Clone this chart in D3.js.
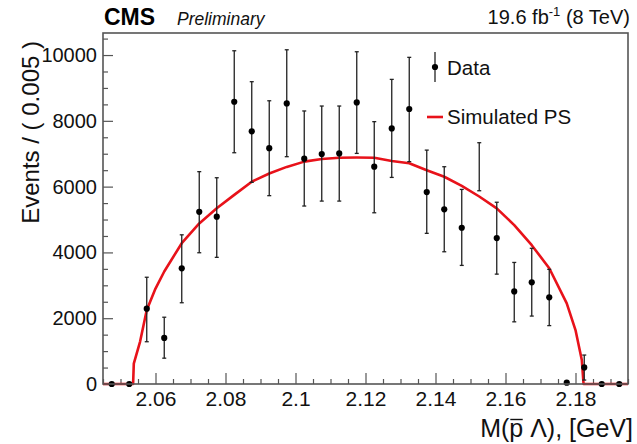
<!DOCTYPE html>
<html>
<head>
<meta charset="utf-8">
<script src="https://cdn.jsdelivr.net/npm/d3@7"></script>
<style>
  html, body { margin: 0; padding: 0; background: #fff; }
  svg { display: block; font-family: "Liberation Sans", Arial, Helvetica, sans-serif; }
</style>
</head>
<body>
<svg id="chart" width="637" height="444"></svg>
<script>
// ---- data ----
const binCenters = [2.0475, 2.0525, 2.0575, 2.0625, 2.0675, 2.0725, 2.0775, 2.0825, 2.0875, 2.0925,
                    2.0975, 2.1025, 2.1075, 2.1125, 2.1175, 2.1225, 2.1275, 2.1325, 2.1375, 2.1425,
                    2.1475, 2.1525, 2.1575, 2.1625, 2.1675, 2.1725, 2.1775, 2.1825, 2.1875, 2.1925];
const dataValues = [0, 0, 2290, 1400, 3515, 5235, 5085, 8580, 7680, 7170,
                    8530, 6850, 6990, 7010, 8560, 6605, 7770, 8360, 5835, 5310,
                    4750, 6605, 4435, 2815, 3090, 2635, 40, 505, 0, 0];
const errUp   = [0, 0, 955, 630, 1020, 1220, 1185, 1550, 1510, 1440,
                 1630, 1450, 1460, 1440, 1540, 1370, 1490, 1570, 1275, 1295,
                 1165, 730, 1090, 880, 1035, 850, 0, 375, 0, 0];
const errDown = [0, 0, 1005, 615, 1045, 1245, 1235, 1550, 1550, 1445,
                 1620, 1440, 1430, 1450, 1550, 1400, 1490, 1600, 1255, 1290,
                 1145, 730, 1095, 925, 1025, 860, 0, 385, 0, 0];
const hiddenMarkers = [2.1525];

const psX = [2.045, 2.0536, 2.0538, 2.0556, 2.0575, 2.0600, 2.0625, 2.0675, 2.0725, 2.0775,
             2.0825, 2.0875, 2.0925, 2.0975, 2.1025, 2.1075, 2.1125, 2.1175, 2.1225, 2.1275,
             2.1325, 2.1375, 2.1425, 2.1475, 2.1525, 2.1575, 2.1625, 2.1675, 2.1725, 2.1775,
             2.1800, 2.1818, 2.1823, 2.195];
const psY = [0, 0, 620, 1290, 2250, 2900, 3420, 4280, 4880, 5340,
             5750, 6150, 6400, 6600, 6760, 6840, 6880, 6885, 6880, 6780,
             6710, 6500, 6300, 6020, 5700, 5340, 4830, 4220, 3520, 2450,
             1640, 730, 0, 0];

const xTicks = [2.06, 2.08, 2.10, 2.12, 2.14, 2.16, 2.18];
const xTickLabels = ["2.06", "2.08", "2.1", "2.12", "2.14", "2.16", "2.18"];
const yTicks = [0, 2000, 4000, 6000, 8000, 10000];
const yTickLabels = ["0", "2000", "4000", "6000", "8000", "10000"];

// ---- layout ----
const L = 103, R = 628, T = 33, B = 384;
const svg = d3.select("#chart");
const x = d3.scaleLinear().domain([2.045, 2.195]).range([L, R]);
const y = d3.scaleLinear().domain([0, 10670]).range([B, T]);
const frameColor = "#555";

// minor ticks
const xMinor = d3.range(2.045, 2.1951, 0.005).filter(v => !xTicks.some(t => Math.abs(t - v) < 1e-6));
const yMinor = d3.range(0, 10600, 500).filter(v => v % 2000 !== 0);

const gx = svg.append("g").attr("transform", `translate(0,${B})`);
gx.call(d3.axisBottom(x).tickValues(xMinor).tickSize(-5).tickFormat(""));
gx.select(".domain").remove();
const gx2 = svg.append("g").attr("transform", `translate(0,${B})`);
gx2.call(d3.axisBottom(x).tickValues(xTicks).tickSize(-11).tickPadding(7)
          .tickFormat((d, i) => xTickLabels[i]));
gx2.select(".domain").remove();
gx2.selectAll("text").attr("font-size", 21).attr("fill", "#111")
   .attr("font-family", "Liberation Sans, Arial, sans-serif");

const gy = svg.append("g").attr("transform", `translate(${L},0)`);
gy.call(d3.axisLeft(y).tickValues(yMinor).tickSize(-5).tickFormat(""));
gy.select(".domain").remove();
const gy2 = svg.append("g").attr("transform", `translate(${L},0)`);
gy2.call(d3.axisLeft(y).tickValues(yTicks).tickSize(-10).tickPadding(6)
          .tickFormat((d, i) => yTickLabels[i]));
gy2.select(".domain").remove();
gy2.selectAll("text").attr("font-size", 20).attr("fill", "#111")
   .attr("font-family", "Liberation Sans, Arial, sans-serif");
svg.selectAll("g.tick line").attr("stroke", frameColor).attr("stroke-width", 1.2);

// PS curve
const line = d3.line().x(d => x(d[0])).y(d => y(d[1]));
svg.append("path")
  .datum(psX.map((v, i) => [v, psY[i]]))
  .attr("d", line)
  .attr("fill", "none")
  .attr("stroke", "#e8121a")
  .attr("stroke-width", 2.6)
  .attr("stroke-linejoin", "round");

// data error bars
const pts = binCenters.map((c, i) => ({c, v: dataValues[i], up: errUp[i], dn: errDown[i]}));
const eb = svg.append("g").attr("stroke", "#222").attr("stroke-width", 1.3);
pts.filter(p => p.up > 0 || p.dn > 0).forEach(p => {
  eb.append("line").attr("x1", x(p.c)).attr("x2", x(p.c)).attr("y1", y(p.v + p.up)).attr("y2", y(p.v - p.dn));
  eb.append("line").attr("x1", x(p.c) - 2).attr("x2", x(p.c) + 2).attr("y1", y(p.v + p.up)).attr("y2", y(p.v + p.up));
  eb.append("line").attr("x1", x(p.c) - 2).attr("x2", x(p.c) + 2).attr("y1", y(p.v - p.dn)).attr("y2", y(p.v - p.dn));
});
svg.append("g").selectAll("circle")
  .data(pts.filter(p => !hiddenMarkers.includes(p.c)))
  .join("circle")
  .attr("cx", p => x(p.c)).attr("cy", p => y(p.v)).attr("r", 3.1).attr("fill", "#000");

// frame
svg.append("rect").attr("x", L).attr("y", T).attr("width", R - L).attr("height", B - T)
  .attr("fill", "none").attr("stroke", frameColor).attr("stroke-width", 1.6);

// legend
svg.append("line").attr("x1", 435).attr("x2", 435).attr("y1", 52).attr("y2", 82)
  .attr("stroke", "#222").attr("stroke-width", 1.3);
svg.append("circle").attr("cx", 435).attr("cy", 67).attr("r", 3.1).attr("fill", "#000");
svg.append("text").attr("x", 447).attr("y", 75).attr("font-size", 20.5).attr("fill", "#111").text("Data");
svg.append("line").attr("x1", 427).attr("x2", 443).attr("y1", 117).attr("y2", 117)
  .attr("stroke", "#e8121a").attr("stroke-width", 2.6);
svg.append("text").attr("x", 447).attr("y", 124).attr("font-size", 20.5).attr("fill", "#111").text("Simulated PS");

// header
svg.append("text").attr("x", 104).attr("y", 25).attr("font-size", 23).attr("font-weight", "bold")
  .attr("fill", "#000").text("CMS");
svg.append("text").attr("x", 177).attr("y", 25).attr("font-size", 17.5).attr("font-style", "italic")
  .attr("fill", "#111").text("Preliminary");
const lumi = svg.append("text").attr("x", 630).attr("y", 24).attr("text-anchor", "end")
  .attr("font-size", 20).attr("fill", "#111");
lumi.append("tspan").text("19.6 fb");
lumi.append("tspan").attr("font-size", 13).attr("dy", -8).text("-1");
lumi.append("tspan").attr("dy", 8).text(" (8 TeV)");

// axis titles
svg.append("text").attr("transform", "translate(39,41) rotate(-90)")
  .attr("text-anchor", "end").attr("font-size", 24).attr("fill", "#111")
  .text("Events / ( 0.005 )");
const xt = svg.append("text").attr("x", 633).attr("y", 437).attr("text-anchor", "end")
  .attr("font-size", 25).attr("fill", "#111")
  .text("M(p  Λ), [GeV]");
// overline over the "p" (antiproton)
const xtn = xt.node();
const p0 = xtn.getStartPositionOfChar(2).x, p1 = xtn.getEndPositionOfChar(2).x;
svg.append("line").attr("x1", p0 + 1).attr("x2", p1 - 0.5).attr("y1", 437 - 17.5).attr("y2", 437 - 17.5)
  .attr("stroke", "#111").attr("stroke-width", 1.4);
</script>
</body>
</html>
